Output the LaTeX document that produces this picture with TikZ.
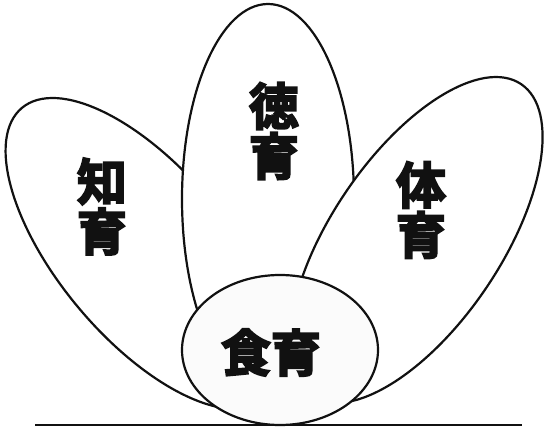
\documentclass[tikz,border=0pt]{standalone}
\usepackage{fontspec}
\newfontfamily\jpfont{Noto Sans CJK JP}[BoldFont={Noto Sans CJK JP Bold},
  BoldFeatures={FakeBold=4}]
\definecolor{ink}{HTML}{111111}
\definecolor{paper}{HTML}{FFFFFF}
\definecolor{seed}{HTML}{FBFBFB}

\begin{document}
\begin{tikzpicture}[x=1pt, y=1pt,
    petal/.style={draw=ink, line width=2.2pt, fill=paper},
    word/.style={font=\jpfont\bfseries\fontsize{50}{50}\selectfont,
      text=ink, align=center, inner sep=0pt}]
  \useasboundingbox (0,0) rectangle (546,429);

  % Left petal (behind the others)
  \filldraw[petal, rotate around={-50:(144,175.5)}]
    (144,175.5) ellipse [x radius=190pt, y radius=85pt];

  % Middle petal
  \filldraw[petal] (268,230) ellipse [x radius=86pt, y radius=195pt];

  % Right petal
  \filldraw[petal, rotate around={56:(416,189)}]
    (416,189) ellipse [x radius=188pt, y radius=85pt];

  % Centre of the flower
  \filldraw[petal, fill=seed] (280,79) ellipse [x radius=98pt, y radius=75pt];

  % Ground line
  \coordinate (ground-l) at (35,4);
  \coordinate (ground-r) at (522,4);
  \draw[ink, line width=2.5pt] (ground-l) -- (ground-r);

  % Labels
  \node[word] (chiiku) at (102,222.5) {知\\育};
  \node[word] (tokuiku) at (274,298) {徳\\育};
  \node[word] (taiiku) at (421,219) {体\\育};
  \node[word] (shokuiku) at (271,76.5) {食育};
\end{tikzpicture}
\end{document}
